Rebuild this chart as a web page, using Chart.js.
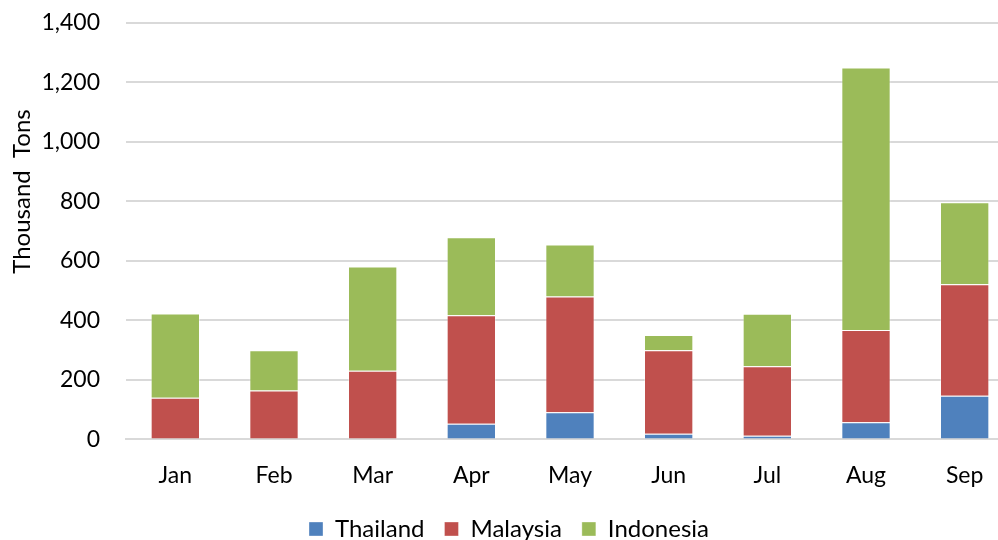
<!DOCTYPE html>
<html>
<head>
<meta charset="utf-8">
<script src="https://cdn.jsdelivr.net/npm/chart.js@4"></script>
<style>
  html, body { margin: 0; padding: 0; background: #fff; overflow: hidden; }
  #wrap { width: 1014px; height: 568px; margin-top: -17px; }
</style>
</head>
<body>
<div id="wrap"><canvas id="chart"></canvas></div>
<script>
var months = ["Jan", "Feb", "Mar", "Apr", "May", "Jun", "Jul", "Aug", "Sep"];
var thailand = [0, 0, 0, 53, 91, 19, 12, 58, 147];
var malaysia = [140, 164, 231, 364, 389, 281, 234, 310, 374];
var indonesia = [283, 136, 350, 262, 175, 51, 176, 882, 276];
var yTitle = "Thousand  Tons";

var font = "Lato, 'Open Sans', sans-serif";

function makeSet(label, data, color) {
  return {
    label: label,
    data: data,
    backgroundColor: color,
    borderColor: "rgba(255,255,255,0.35)",
    borderWidth: 1,
    barPercentage: 1,
    categoryPercentage: 0.5
  };
}

// axis title sits a bit above the middle of the plot, like the original
var yTitlePlugin = {
  id: "yTitle",
  afterDraw: function (c) {
    var g = c.ctx;
    var area = c.chartArea;
    g.save();
    g.translate(22, area.top + (area.bottom - area.top) * 0.405);
    g.rotate(-Math.PI / 2);
    g.font = "24px " + font;
    g.fillStyle = "#000";
    g.textAlign = "center";
    g.textBaseline = "middle";
    g.fillText(yTitle, 0, 0);
    g.restore();
  }
};

var ctx = document.getElementById("chart").getContext("2d");
var chart = new Chart(ctx, {
  type: "bar",
  data: {
    labels: months,
    datasets: [
      makeSet("Thailand", thailand, "#4F81BD"),
      makeSet("Malaysia", malaysia, "#C0504D"),
      makeSet("Indonesia", indonesia, "#9BBB59")
    ]
  },
  plugins: [yTitlePlugin],
  options: {
    responsive: true,
    maintainAspectRatio: false,
    animation: false,
    layout: { padding: { top: 0, left: 4, right: 0, bottom: 0 } },
    plugins: {
      tooltip: { enabled: false },
      legend: {
        position: "bottom",
        labels: {
          color: "#000",
          font: { family: font, size: 24 },
          boxWidth: 14,
          boxHeight: 14,
          padding: 20
        }
      }
    },
    scales: {
      x: {
        stacked: true,
        afterFit: function (s) { s.height = s.height - 6; },
        grid: { display: false },
        border: { color: "#d9d9d9", width: 2 },
        ticks: { color: "#000", font: { family: font, size: 23 }, padding: 14 }
      },
      y: {
        stacked: true,
        min: 0,
        max: 1400,
        afterFit: function (s) { s.width = 122; },
        grid: { color: "#d9d9d9", lineWidth: 2, drawTicks: false },
        border: { display: false },
        ticks: {
          stepSize: 200,
          color: "#000",
          padding: 26,
          font: { family: font, size: 23 },
          callback: function (v) { return v.toLocaleString("en-US"); }
        }
      }
    }
  }
});
</script>
</body>
</html>
